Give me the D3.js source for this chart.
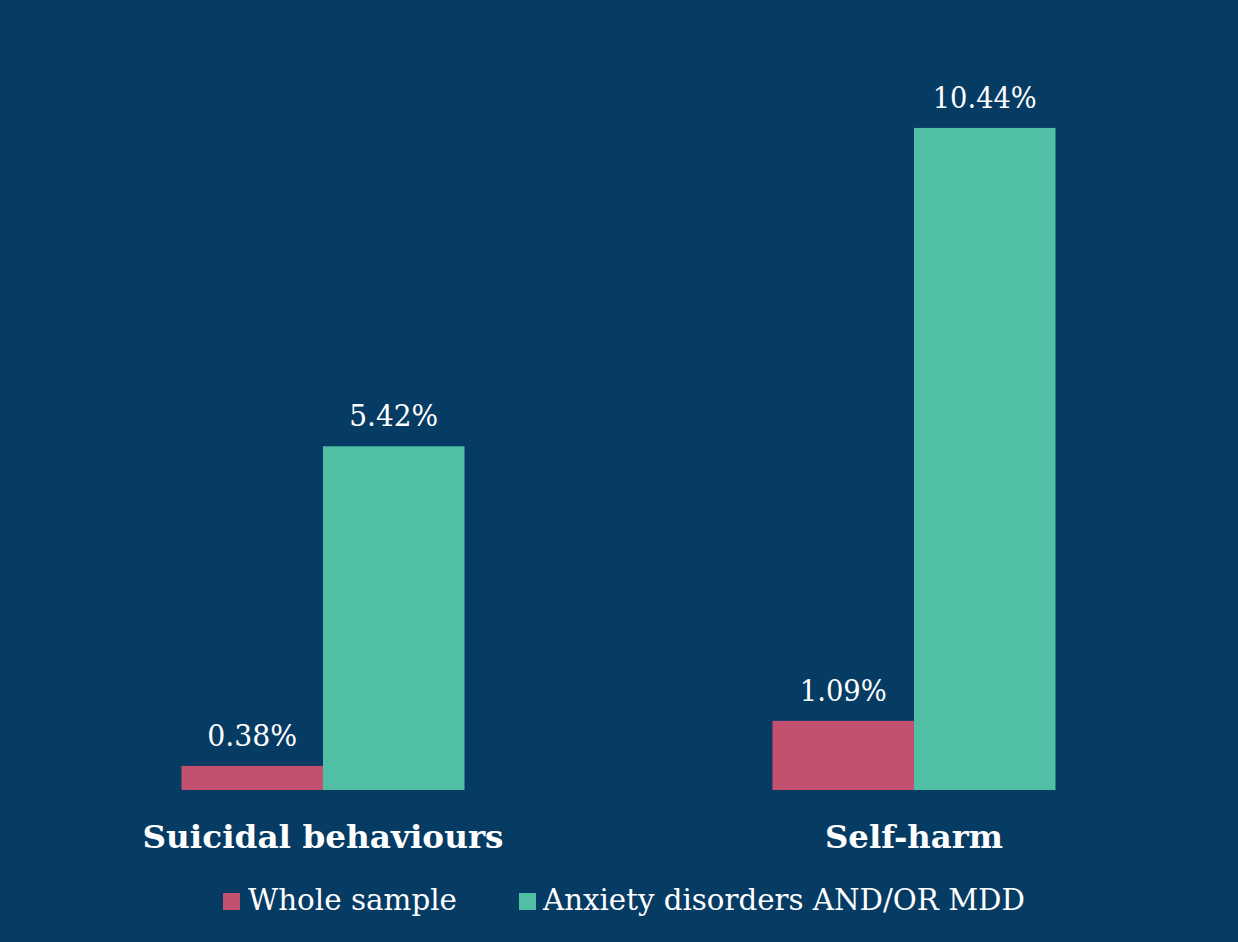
<!DOCTYPE html>
<html><head><meta charset="utf-8">
<script src="https://cdn.jsdelivr.net/npm/d3@7"></script>
<style>html,body{margin:0;padding:0;background:#063B64;}svg{display:block;}</style>
</head><body>
<script>
const categories = ["Suicidal behaviours", "Self-harm"];
const seriesNames = ["Whole sample", "Anxiety disorders AND/OR MDD"];
const wholeSample = [0.38, 1.09];
const anxietyMDD = [5.42, 10.44];
const valueLabels = [["0.38%", "1.09%"], ["5.42%", "10.44%"]];
const colors = ["#C45070", "#51BFA4"];

const W = 1238, H = 942;
const svg = d3.select("body").append("svg").attr("width", W).attr("height", H);
svg.append("rect").attr("width", W).attr("height", H).attr("fill", "#063B64");

const x0 = d3.scaleBand().domain(categories).range([27.5, 1209.5]).paddingInner(0).paddingOuter(0);
const groupW = 283;
const x1 = d3.scaleBand().domain(seriesNames).range([0, groupW]);
const y = d3.scaleLinear().domain([0, 12]).range([790, 29]);

const series = [wholeSample, anxietyMDD];
const font = "'DejaVu Serif', 'Liberation Serif', serif";

function fitText(sel, w) { sel.attr("textLength", w).attr("lengthAdjust", "spacingAndGlyphs"); }

const labelWidths = [[90, 87], [89, 104]];
series.forEach((vals, si) => {
  vals.forEach((v, ci) => {
    const gx = x0(categories[ci]) + x0.bandwidth() / 2 - groupW / 2;
    const bx = gx + x1(seriesNames[si]);
    svg.append("rect").attr("x", bx).attr("y", y(v)).attr("width", x1.bandwidth())
      .attr("height", y(0) - y(v)).attr("fill", colors[si]);
    const t = svg.append("text").attr("x", bx + x1.bandwidth() / 2).attr("y", y(v) - 20)
      .attr("text-anchor", "middle").attr("fill", "#fff").attr("font-family", font)
      .attr("font-size", 30).text(valueLabels[si][ci]);
    fitText(t, labelWidths[si][ci]);
  });
});

const catWidths = [361, 178];
categories.forEach((c, i) => {
  const t = svg.append("text").attr("x", x0(c) + x0.bandwidth() / 2).attr("y", 848)
    .attr("text-anchor", "middle").attr("fill", "#fff").attr("font-family", font)
    .attr("font-weight", "bold").attr("font-size", 32).text(c);
  fitText(t, catWidths[i]);
});

const legendItems = [{x: 223, tx: 248, w: 209}, {x: 519, tx: 543, w: 482}];
seriesNames.forEach((s, i) => {
  const L = legendItems[i];
  svg.append("rect").attr("x", L.x).attr("y", 893).attr("width", 17).attr("height", 17).attr("fill", colors[i]);
  const t = svg.append("text").attr("x", L.tx).attr("y", 910).attr("fill", "#fff")
    .attr("font-family", font).attr("font-size", 29).text(s);
  fitText(t, L.w);
});
</script>
</body></html>
